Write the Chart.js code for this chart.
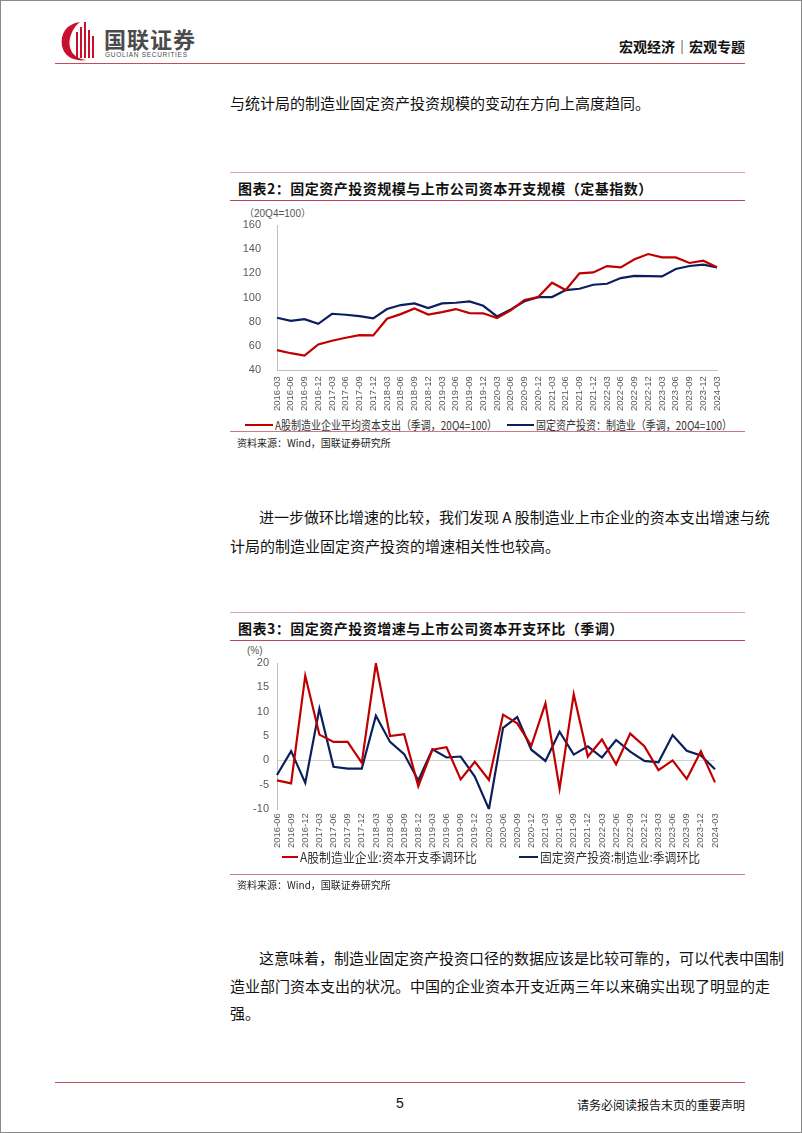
<!DOCTYPE html>
<html>
<head>
<meta charset="utf-8">
<script src="https://cdn.jsdelivr.net/npm/chart.js@4.4.1/dist/chart.umd.min.js"></script>
<style>
    html, body { margin: 0; padding: 0; background: #fff; }
    body { width: 802px; height: 1133px; position: relative; overflow: hidden;
           font-family: "Noto Sans CJK SC", sans-serif; }
    .frame { position: absolute; left: 0; top: 0; width: 800px; height: 1131px; border: 1px solid #8a8a8a; }
    .abs { position: absolute; white-space: nowrap; }
    .body-text { font-size: 15px; color: #111; line-height: 20px; }
    .hline { position: absolute; height: 0; }
    .chart-title { font-size: 14px; font-weight: bold; color: #111; letter-spacing: 0.5px; }
    .source { font-size: 10px; color: #222; }
    .unit { font-size: 10px; color: #555; font-family: "Liberation Sans", "Noto Sans CJK SC", sans-serif; }
    canvas { position: absolute; }
    .legend-line { position: absolute; height: 2px; }
    .legend-text { position: absolute; white-space: nowrap; color: #333; line-height: 16px; transform-origin: 0 50%; }
</style>
</head>
<body>
<div class="frame"></div>

<!-- en-tête -->
<svg class="abs" style="left:60px; top:18px;" width="40" height="44" viewBox="0 0 40 44">
    <path d="M20 4 C6 6 0 16 2 28 C4 38 14 44 26 42 C12 40 8 30 10 20 C12 12 16 7 20 4 Z" fill="#c8102e"/>
    <rect x="16" y="14" width="2" height="26" fill="#c8102e"/>
    <rect x="20" y="9" width="2" height="31" fill="#c8102e"/>
    <rect x="24" y="4" width="2" height="36" fill="#c8102e"/>
    <rect x="28" y="12" width="2" height="28" fill="#c8102e"/>
    <rect x="32" y="18" width="2" height="22" fill="#c8102e"/>
</svg>
<div class="abs" style="left:104px; top:27px; font-size:22px; line-height:22px; font-weight:bold; color:#4a4a4a; letter-spacing:1px;">国联证券</div>
<div class="abs" style="left:105px; top:51px; font-size:6.5px; line-height:7px; color:#4a4a4a; font-family:'Liberation Sans'; letter-spacing:0.7px;">GUOLIAN SECURITIES</div>
<div class="abs" style="right:57px; top:36px; font-size:14px; font-weight:bold; color:#111;">宏观经济｜宏观专题</div>
<div class="hline" style="left:55px; top:63px; width:690px; border-top:1.5px solid #c0505a;"></div>

<div class="abs body-text" style="left:230px; top:93px;">与统计局的制造业固定资产投资规模的变动在方向上高度趋同。</div>

<!-- graphique 2 -->
<div class="hline" style="left:230px; top:172px; width:515px; border-top:1px solid #d9a3ae;"></div>
<div class="abs chart-title" style="left:238px; top:178px;">图表2：固定资产投资规模与上市公司资本开支规模（定基指数）</div>
<div class="hline" style="left:230px; top:200px; width:515px; border-top:1.5px solid #b9475c;"></div>
<div class="abs unit" style="left:244px; top:205px;">（20Q4=100）</div>
<canvas id="chartLevel" width="515" height="208" style="left:230px; top:205px;"></canvas>
<div id="legendLevel"></div>
<div class="hline" style="left:230px; top:431px; width:515px; border-top:1px solid #c77a88;"></div>
<div class="abs source" style="left:237px; top:435px;">资料来源：Wind，国联证券研究所</div>

<div class="abs body-text" style="left:259px; top:507px;">进一步做环比增速的比较，我们发现 A 股制造业上市企业的资本支出增速与统</div>
<div class="abs body-text" style="left:230px; top:536px;">计局的制造业固定资产投资的增速相关性也较高。</div>

<!-- graphique 3 -->
<div class="hline" style="left:230px; top:612px; width:515px; border-top:1px solid #d9a3ae;"></div>
<div class="abs chart-title" style="left:238px; top:618px;">图表3：固定资产投资增速与上市公司资本开支环比（季调）</div>
<div class="hline" style="left:230px; top:640px; width:515px; border-top:1.5px solid #b9475c;"></div>
<div class="abs unit" style="left:247px; top:645px;">(%)</div>
<canvas id="chartGrowth" width="515" height="207" style="left:230px; top:645px;"></canvas>
<div id="legendGrowth"></div>
<div class="hline" style="left:230px; top:874px; width:515px; border-top:1px solid #c77a88;"></div>
<div class="abs source" style="left:237px; top:877px;">资料来源：Wind，国联证券研究所</div>

<div class="abs body-text" style="left:259px; top:948px;">这意味着，制造业固定资产投资口径的数据应该是比较可靠的，可以代表中国制</div>
<div class="abs body-text" style="left:230px; top:976px;">造业部门资本支出的状况。中国的企业资本开支近两三年以来确实出现了明显的走</div>
<div class="abs body-text" style="left:230px; top:1003px;">强。</div>

<!-- pied de page -->
<div class="hline" style="left:55px; top:1082px; width:690px; border-top:1.5px solid #c0505a;"></div>
<div class="abs" style="left:396px; top:1095px; font-size:14px; color:#111; font-family:'Liberation Sans';">5</div>
<div class="abs" style="right:57px; top:1096px; font-size:12px; color:#111;">请务必阅读报告末页的重要声明</div>

<script>
// Données du graphique 2 (niveau, 20Q4=100)
const levelLabels = ['2016-03', '2016-06', '2016-09', '2016-12', '2017-03', '2017-06', '2017-09', '2017-12',
    '2018-03', '2018-06', '2018-09', '2018-12', '2019-03', '2019-06', '2019-09', '2019-12',
    '2020-03', '2020-06', '2020-09', '2020-12', '2021-03', '2021-06', '2021-09', '2021-12',
    '2022-03', '2022-06', '2022-09', '2022-12', '2023-03', '2023-06', '2023-09', '2023-12', '2024-03'];
const capexLevel = [56.6, 54, 52, 61.2, 64.3, 66.8, 69, 68.7, 82.5, 86.3, 91, 86, 88, 90.5, 87.2, 87,
    83, 89.5, 98, 100.4, 112.3, 106.2, 120, 120.8, 126, 125, 131.6, 136, 133.2, 133.2, 128.6, 130.5, 125];
const faiLevel = [83.3, 80.8, 82.2, 78.3, 86.6, 85.8, 84.7, 82.8, 90.5, 93.8, 95.2, 91.3, 95.2, 95.7, 96.8, 93.2,
    84.4, 90.2, 97, 100.4, 100.4, 106.2, 107.3, 110.6, 111.4, 116.1, 118, 117.8, 117.5, 123.6, 126.1, 127.2, 125];
const levelTicks = [40, 60, 80, 100, 120, 140, 160];
const levelNames = ['A股制造业企业平均资本支出（季调，20Q4=100）', '固定资产投资：制造业（季调，20Q4=100）'];

// Données du graphique 3 (variation trimestrielle, %)
const growthLabels = ['2016-06', '2016-09', '2016-12', '2017-03', '2017-06', '2017-09', '2017-12',
    '2018-03', '2018-06', '2018-09', '2018-12', '2019-03', '2019-06', '2019-09', '2019-12',
    '2020-03', '2020-06', '2020-09', '2020-12', '2021-03', '2021-06', '2021-09', '2021-12',
    '2022-03', '2022-06', '2022-09', '2022-12', '2023-03', '2023-06', '2023-09', '2023-12', '2024-03'];
const capexGrowth = [-4.1, -4.7, 17.4, 5.3, 3.8, 3.8, -0.5, 19.9, 5.0, 5.4, -5.3, 2.2, 2.7, -3.9, -0.3, -4.0,
    9.4, 7.6, 3.0, 11.7, -5.8, 13.6, 0.8, 4.3, -0.8, 5.5, 2.9, -2.0, 0.0, -3.8, 1.9, -4.5];
const faiGrowth = [-3.0, 1.9, -4.6, 10.6, -1.3, -1.7, -1.7, 9.2, 3.8, 1.3, -4.1, 2.3, 0.6, 0.8, -3.3, -10,
    6.7, 8.9, 2.2, -0.1, 5.9, 1.2, 2.9, 0.6, 4.2, 1.8, -0.1, -0.4, 5.2, 2.0, 1.0, -1.8];
const growthTicks = [-10, -5, 0, 5, 10, 15, 20];
const growthNames = ['A股制造业企业:资本开支季调环比', '固定资产投资:制造业:季调环比'];

const RED = '#c00000';
const NAVY = '#0b1f5c';
const AXIS = '#bfbfbf';
const TICK_TEXT = '#595959';

Chart.defaults.font.family = '"Liberation Sans", "Noto Sans CJK SC", sans-serif';
Chart.defaults.animation = false;

function makeDataset(label, data, color) {
    return {
        label: label,
        data: data,
        borderColor: color,
        backgroundColor: color,
        borderWidth: 2.2,
        pointRadius: 0,
        tension: 0,
        fill: false
    };
}

// Légende en HTML ; le texte est resserré pour tenir la largeur du rapport
function buildLegend(id, chart, items, top, fontSize) {
    const box = document.getElementById(id);
    chart.data.datasets.forEach((ds, i) => {
        const it = items[i];
        const line = document.createElement('div');
        line.className = 'legend-line';
        line.style.cssText = `left:${it.x}px; top:${top - 1}px; width:${it.w}px; background:${ds.borderColor};`;
        const txt = document.createElement('div');
        txt.className = 'legend-text';
        txt.style.cssText = `left:${it.x + it.w + 2}px; top:${top - 8}px; font-size:${fontSize}px;`;
        txt.textContent = ds.label;
        box.appendChild(line);
        box.appendChild(txt);
        const natural = txt.getBoundingClientRect().width;
        txt.style.transform = `scaleX(${it.tw / natural})`;
    });
}

// Options communes, la largeur de l'axe Y est fixée pour caler la zone de tracé
function baseOptions(ticks, yWidth, padding, labelPad) {
    return {
        responsive: false,
        layout: { padding: padding },
        plugins: {
            legend: { display: false },
            tooltip: { enabled: false }
        },
        scales: {
            x: {
                offset: false,
                grid: { display: false, drawTicks: true, tickLength: 4, tickColor: AXIS },
                border: { display: true, color: AXIS },
                ticks: {
                    color: TICK_TEXT,
                    font: { size: 9.5 },
                    minRotation: 90,
                    maxRotation: 90,
                    autoSkip: false,
                    padding: labelPad
                }
            },
            y: {
                min: ticks[0],
                max: ticks[ticks.length - 1],
                afterFit: scale => { scale.width = yWidth; },
                afterBuildTicks: scale => { scale.ticks = ticks.map(v => ({ value: v })); },
                border: { display: true, color: AXIS },
                grid: { display: false },
                ticks: { color: TICK_TEXT, font: { size: 11 }, padding: 8 }
            }
        }
    };
}

// Graphique 2
const levelChart = new Chart(document.getElementById('chartLevel'), {
    type: 'line',
    data: {
        labels: levelLabels,
        datasets: [
            makeDataset(levelNames[0], capexLevel, RED),
            makeDataset(levelNames[1], faiLevel, NAVY)
        ]
    },
    options: baseOptions(levelTicks, 47, { top: 20, right: 28, bottom: 0, left: 0 }, 2)
});
buildLegend('legendLevel', levelChart, [{ x: 245, w: 28, tw: 222 }, { x: 507, w: 27, tw: 196 }], 425, 12);

// Graphique 3 : ligne du zéro en gris, pas d'axe X visible
const growthOptions = baseOptions(growthTicks, 47, { top: 18, right: 30, bottom: 0, left: 0 }, 4);
growthOptions.scales.y.grid = {
    display: true,
    drawTicks: false,
    color: ctx => (ctx.tick && ctx.tick.value === 0 ? '#d0d0d0' : 'rgba(0,0,0,0)')
};
growthOptions.scales.x.border = { display: false };
growthOptions.scales.x.grid = { display: false, drawTicks: false };

const growthChart = new Chart(document.getElementById('chartGrowth'), {
    type: 'line',
    data: {
        labels: growthLabels,
        datasets: [
            makeDataset(growthNames[0], capexGrowth, RED),
            makeDataset(growthNames[1], faiGrowth, NAVY)
        ]
    },
    options: growthOptions
});
buildLegend('legendGrowth', growthChart, [{ x: 282, w: 16, tw: 177 }, { x: 519, w: 19, tw: 160 }], 857, 13);
</script>
</body>
</html>
